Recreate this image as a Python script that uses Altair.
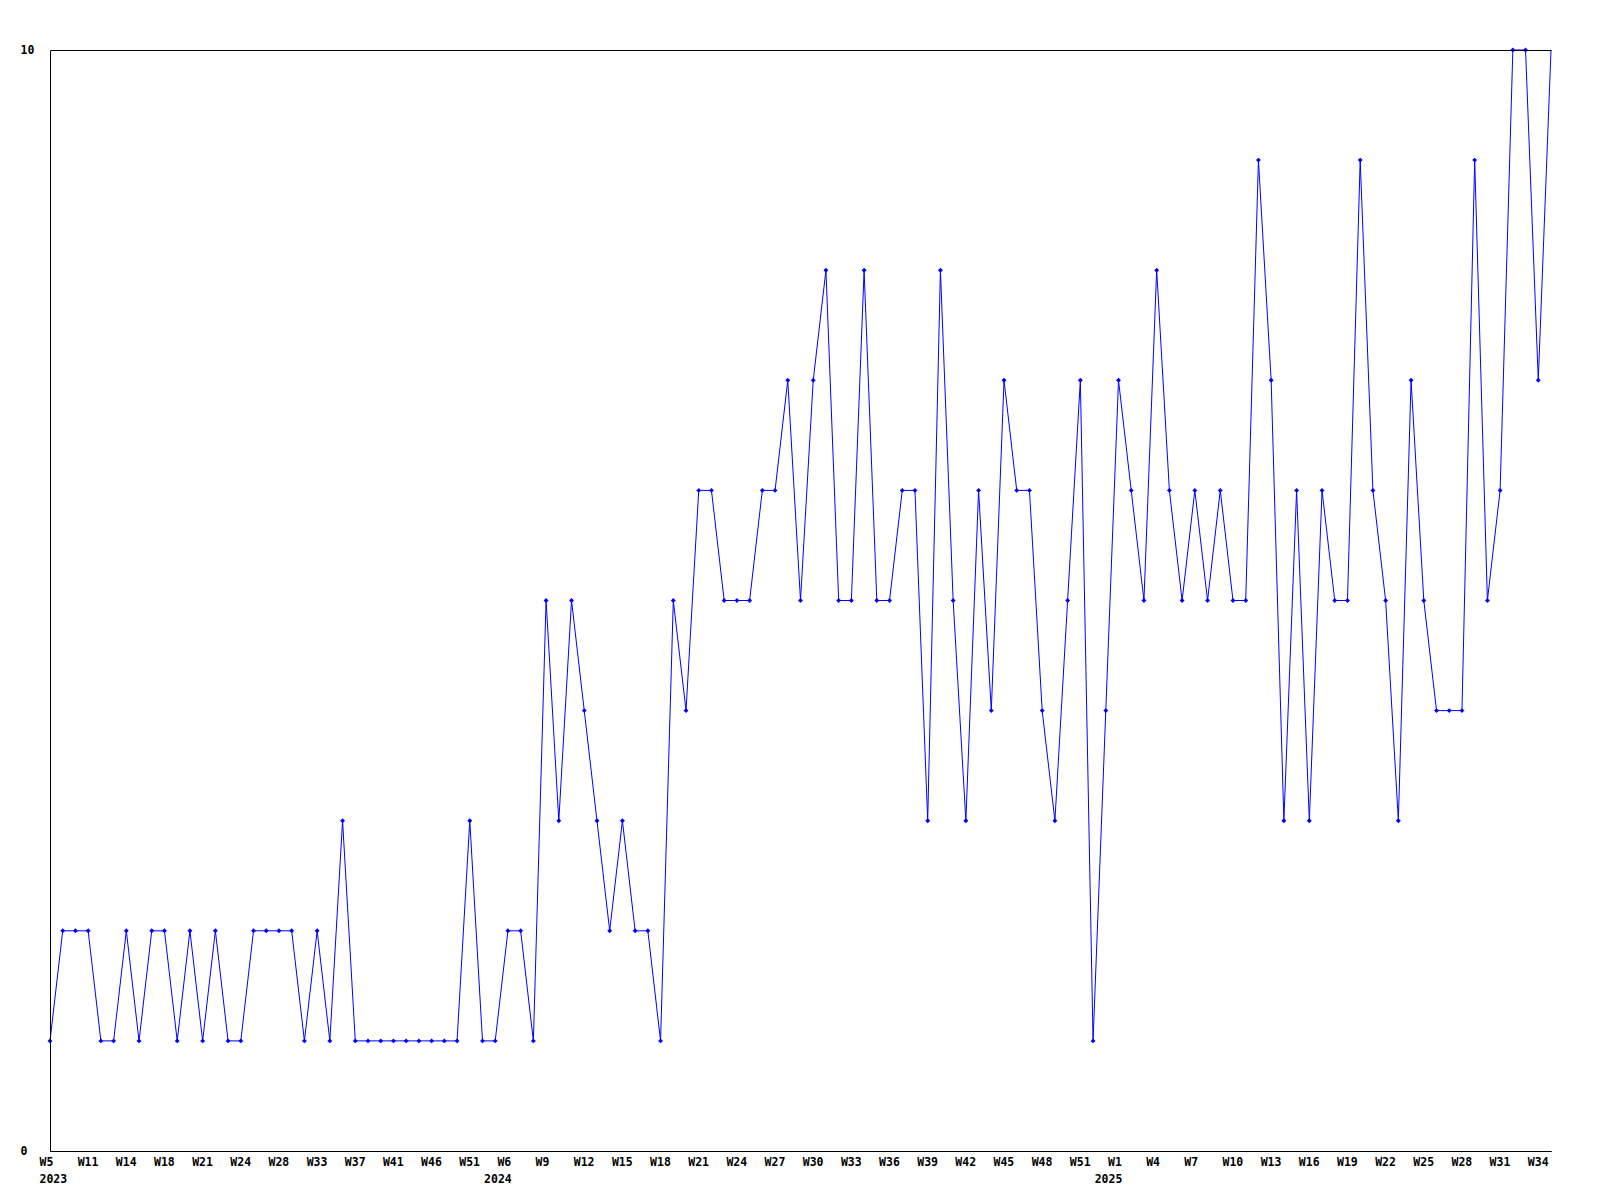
import altair as alt
import pandas as pd

# Week label of every point (x axis is the sequence of reported weeks)
weeks = [
    # 2023
    "W5", "W7", "W9", "W11", "W12", "W13", "W14", "W15", "W17", "W18",
    "W19", "W20", "W21", "W22", "W23", "W24", "W25", "W27", "W28", "W30",
    "W32", "W33", "W35", "W36", "W37", "W38", "W40", "W41", "W43", "W44",
    "W46", "W48", "W50", "W51", "W52",
    # 2024
    "W4", "W6", "W7", "W8", "W9", "W10", "W11", "W12", "W13", "W14",
    "W15", "W16", "W17", "W18", "W19", "W20", "W21", "W22", "W23", "W24",
    "W25", "W26", "W27", "W28", "W29", "W30", "W31", "W32", "W33", "W34",
    "W35", "W36", "W37", "W38", "W39", "W40", "W41", "W42", "W43", "W44",
    "W45", "W46", "W47", "W48", "W49", "W50", "W51", "W52",
    # 2025
    "W0", "W1", "W2", "W3", "W4", "W5", "W6", "W7", "W8", "W9",
    "W10", "W11", "W12", "W13", "W14", "W15", "W16", "W17", "W18", "W19",
    "W20", "W21", "W22", "W23", "W24", "W25", "W26", "W27", "W28", "W29",
    "W30", "W31", "W32", "W33", "W34", "W35",
]

values = [
    1, 2, 2, 2, 1, 1, 2, 1, 2, 2,
    1, 2, 1, 2, 1, 1, 2, 2, 2, 2,
    1, 2, 1, 3, 1, 1, 1, 1, 1, 1,
    1, 1, 1, 3, 1, 1, 2, 2, 1, 5,
    3, 5, 4, 3, 2, 3, 2, 2, 1, 5,
    4, 6, 6, 5, 5, 5, 6, 6, 7, 5,
    7, 8, 5, 5, 8, 5, 5, 6, 6, 3,
    8, 5, 3, 6, 4, 7, 6, 6, 4, 3,
    5, 7, 1, 4, 7, 6, 5, 8, 6, 5,
    6, 5, 6, 5, 5, 9, 7, 3, 6, 3,
    6, 5, 5, 9, 6, 5, 3, 7, 5, 4,
    4, 4, 9, 5, 6, 10, 10, 7, 10,
]

year_names = ["2023", "2024", "2025"]
year_first_point = [0, 36, 84]

n = len(values)
df = pd.DataFrame({"i": list(range(n)), "week": weeks, "count": values})
years_df = pd.DataFrame({"year": year_names, "i": year_first_point})
ticks_df = pd.DataFrame({"i": list(range(0, n - 1, 3))})
ticks_df["week"] = [weeks[k] for k in ticks_df["i"]]

W, H = 1501, 1101
FONT = "DejaVu Sans Mono"
FS = 11.5

xscale = alt.Scale(domain=[0, n - 1], nice=False, zero=False)
yscale = alt.Scale(domain=[0, 10], nice=False, zero=True)

x_axis = alt.Axis(
    values=[0], labels=False, title=None, grid=False, ticks=False,
    domainColor="black", domainWidth=1,
)
y_axis = alt.Axis(
    values=[0, 10], format="d", title=None, grid=True, gridColor="black",
    gridOpacity=1, gridWidth=1, ticks=False, domainColor="black", domainWidth=1,
    labelFont=FONT, labelFontSize=FS, labelFontWeight="bold", labelColor="black",
    labelAlign="left", labelPadding=30, labelBaseline="middle", zindex=1,
)

base = alt.Chart(df)

line = base.mark_line(color="#0000ff", strokeWidth=1).encode(
    x=alt.X("i:Q", scale=xscale, axis=x_axis),
    y=alt.Y("count:Q", scale=yscale, axis=y_axis),
)

points = base.transform_filter(alt.datum.i < n - 1).mark_point(
    shape="diamond", filled=True, size=24, color="#0000ff", opacity=1
).encode(
    x=alt.X("i:Q", scale=xscale),
    y=alt.Y("count:Q", scale=yscale),
)

# week labels under every third point
week_labels = alt.Chart(ticks_df).mark_text(
    font=FONT, fontSize=FS, fontWeight="bold", color="black",
    align="left", baseline="middle", dx=-10.5,
).encode(
    x=alt.X("i:Q", scale=xscale),
    y=alt.value(H + 12),
    text="week:N",
)

year_first = alt.Chart(years_df).transform_filter(alt.datum.i == 0).mark_text(
    font=FONT, fontSize=FS, fontWeight="bold", color="black",
    align="left", baseline="middle", dx=-10.5,
).encode(
    x=alt.X("i:Q", scale=xscale),
    y=alt.value(H + 28.5),
    text="year:N",
)

year_rest = alt.Chart(years_df).transform_filter(alt.datum.i > 0).mark_text(
    font=FONT, fontSize=FS, fontWeight="bold", color="black",
    align="center", baseline="middle", dx=-10,
).encode(
    x=alt.X("i:Q", scale=xscale),
    y=alt.value(H + 28.5),
    text="year:N",
)

chart = alt.layer(line, points, week_labels, year_first, year_rest).properties(
    width=W, height=H,
    autosize=alt.AutoSizeParams(type="none"),
    padding={"left": 42, "top": 42, "right": 41, "bottom": 40},
    background="white",
).configure_view(stroke=None)

chart.save("out.html", embed_options={"renderer": "svg", "actions": False})
